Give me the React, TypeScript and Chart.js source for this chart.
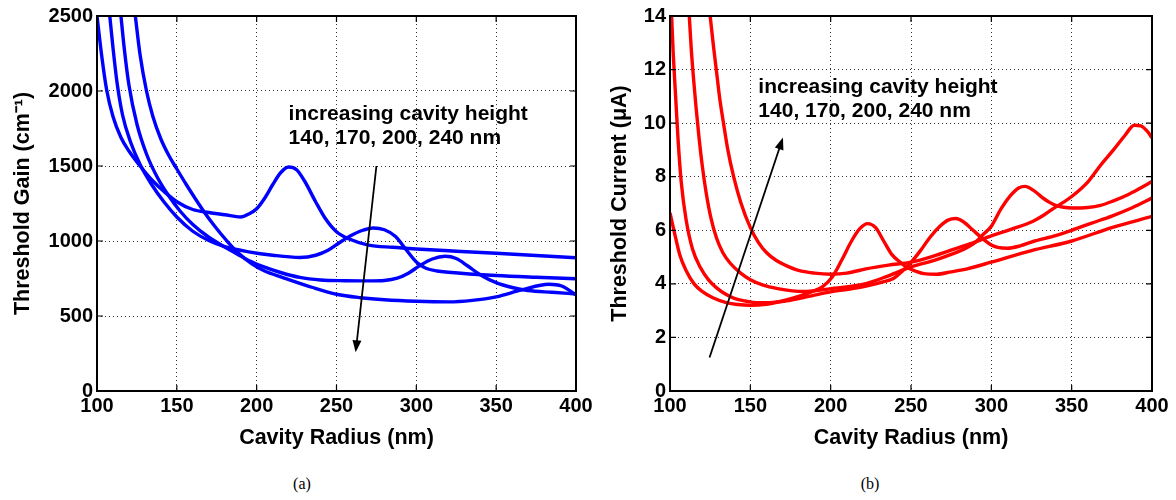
import React, { useEffect, useRef } from 'react';
import { Chart, registerables } from 'chart.js';

Chart.register(...registerables);

// ---------- axes ----------
const radiusTicks = [100, 150, 200, 250, 300, 350, 400];
const gainTicks = [0, 500, 1000, 1500, 2000, 2500];
const currentTicks = [0, 2, 4, 6, 8, 10, 12, 14];
const heightLabels = ['140 nm', '170 nm', '200 nm', '240 nm'];

// ---------- (a) threshold gain (cm^-1) ----------
const gain140R = [100, 103, 106, 110, 115, 120, 127, 135, 142, 150, 160, 170, 180, 190, 195, 200, 205, 210, 215, 220, 225, 230, 237, 243, 250, 258, 270, 285, 300, 325, 350, 375, 400];
const gain140V = [2500, 2230, 2010, 1830, 1690, 1600, 1500, 1400, 1330, 1262, 1210, 1190, 1175, 1160, 1180, 1215, 1285, 1375, 1455, 1493, 1475, 1400, 1260, 1150, 1062, 1013, 973, 958, 947, 932, 918, 903, 888];

const gain170R = [108, 110, 112.5, 116, 121, 127, 134, 142, 150, 160, 170, 180, 195, 210, 227, 237, 245, 252, 258, 266, 273, 280, 287, 293, 300, 306, 313, 320, 350, 375, 400];
const gain170V = [2500, 2290, 2060, 1840, 1660, 1510, 1380, 1260, 1160, 1065, 1003, 962, 928, 905, 890, 905, 940, 990, 1030, 1070, 1087, 1075, 1030, 950, 860, 818, 800, 792, 770, 758, 748];

const gain200R = [115, 117, 120, 125, 131, 138, 145, 152, 160, 170, 180, 188, 195, 205, 215, 227, 240, 255, 270, 280, 288, 295, 302, 310, 318, 325, 332, 340, 350, 360, 370, 385, 400];
const gain200V = [2500, 2290, 2040, 1780, 1580, 1420, 1300, 1200, 1110, 1025, 960, 912, 870, 826, 790, 757, 740, 735, 734, 737, 752, 785, 835, 880, 898, 883, 835, 775, 722, 690, 670, 658, 647];

const gain240R = [124, 127, 131, 135, 140, 145, 150, 156, 162, 168, 174, 181, 188, 197, 205, 216, 235, 250, 265, 280, 300, 320, 335, 350, 366, 383, 391, 400];
const gain240V = [2500, 2240, 2000, 1830, 1680, 1570, 1480, 1375, 1275, 1180, 1095, 1005, 925, 848, 800, 758, 690, 645, 622, 608, 598, 594, 604, 628, 674, 712, 700, 642];

// ---------- (b) threshold current (uA) ----------
const cur140R = [100, 103, 106, 110, 115, 120, 127, 135, 142, 150, 160, 170, 180, 188, 195, 201, 207, 213, 218, 223, 228, 233, 238, 243, 248, 253, 258, 266, 275, 285, 300, 325, 350, 375, 400];
const cur140V = [6.65, 5.85, 5.1, 4.5, 4.0, 3.72, 3.47, 3.3, 3.23, 3.2, 3.24, 3.36, 3.53, 3.7, 3.9, 4.26, 4.9, 5.6, 6.05, 6.25, 6.1, 5.6, 5.1, 4.82, 4.6, 4.47, 4.38, 4.36, 4.45, 4.56, 4.81, 5.24, 5.6, 6.1, 6.52];

const cur170R = [101, 102, 103.5, 105, 107, 110, 114, 119, 124, 129, 135, 140, 147, 154, 162, 171, 180, 190, 200, 211, 222, 231, 239, 245, 250, 256, 262, 268, 273, 278, 283, 289, 295, 300, 304, 310, 318, 327, 340, 350, 362, 375, 388, 400];
const cur170V = [14, 12.6, 11, 9.4, 7.8, 6.4, 5.3, 4.6, 4.15, 3.85, 3.6, 3.46, 3.36, 3.3, 3.3, 3.35, 3.45, 3.58, 3.7, 3.8, 3.92, 4.05, 4.2, 4.5, 4.8, 5.25, 5.75, 6.15, 6.38, 6.44, 6.3, 5.98, 5.67, 5.45, 5.36, 5.33, 5.42, 5.6, 5.8, 6.0, 6.26, 6.53, 6.85, 7.2];

const cur200R = [112, 113.2, 114.6, 116.2, 118, 120, 122.5, 125.5, 129, 133, 137.5, 144, 150, 158, 167, 176, 185, 200, 222, 236, 250, 264, 275, 285, 290, 295, 300, 306, 312, 317, 321, 326, 331, 336, 340, 345, 350, 360, 368, 376, 385, 392, 400];
const cur200V = [14, 12.8, 11.7, 10.6, 9.5, 8.45, 7.4, 6.45, 5.7, 5.15, 4.77, 4.4, 4.15, 3.95, 3.82, 3.74, 3.72, 3.82, 4.01, 4.3, 4.63, 4.87, 5.1, 5.36, 5.55, 5.85, 6.15, 6.8, 7.3, 7.58, 7.64, 7.5, 7.26, 7.05, 6.93, 6.86, 6.83, 6.85, 6.93, 7.1, 7.33, 7.55, 7.82];

const cur240R = [125, 127, 129, 131, 133.3, 136, 139.6, 144, 150, 155, 160, 166, 172, 180, 190, 200, 210, 222, 236, 250, 262, 274, 287, 300, 313, 326, 333, 339, 345, 350, 360, 368, 376, 383, 389, 393, 397, 400];
const cur240V = [14, 12.9, 11.9, 10.9, 10, 9, 8, 7.05, 6.1, 5.55, 5.17, 4.88, 4.69, 4.5, 4.4, 4.36, 4.4, 4.56, 4.7, 4.81, 5.0, 5.24, 5.5, 5.79, 6.05, 6.34, 6.58, 6.83, 7.05, 7.26, 7.8, 8.43, 9.0, 9.53, 9.92, 9.9, 9.7, 9.45];

// ---------- annotations ----------
const noteLines = ['increasing cavity height', '140, 170, 200, 240 nm'];
const gainNoteX = 220;
const gainNoteY = [1842, 1683];
const gainArrow = [275, 1500, 262, 258]; // from (x,y) to (x,y)
const currentNoteX = 155;
const currentNoteY = [11.36, 10.43];
const currentArrow = [124.6, 1.25, 170.3, 9.46];

const FONT = "'Liberation Sans', Arial, Helvetica, sans-serif";

function pts(xs: number[], ys: number[]) {
  return xs.map((x, i) => ({ x, y: ys[i] }));
}

const framePlugin = {
  id: 'matlabFrame',
  afterDatasetsDraw(chart: any, _args: any, opts: any) {
    const { ctx, chartArea, scales } = chart;
    const { left, top, right, bottom } = chartArea;
    const xs = scales.x;
    const ys = scales.y;
    ctx.save();
    ctx.strokeStyle = '#000';
    ctx.lineWidth = 1.2;
    ctx.beginPath();
    for (const v of opts.xTicks) {
      const p = xs.getPixelForValue(v);
      ctx.moveTo(p, bottom);
      ctx.lineTo(p, bottom - 6);
      ctx.moveTo(p, top);
      ctx.lineTo(p, top + 6);
    }
    for (const v of opts.yTicks) {
      const p = ys.getPixelForValue(v);
      ctx.moveTo(left, p);
      ctx.lineTo(left + 6, p);
      ctx.moveTo(right, p);
      ctx.lineTo(right - 6, p);
    }
    ctx.stroke();
    ctx.lineWidth = 2;
    ctx.strokeRect(left, top, right - left, bottom - top);

    // note text
    ctx.fillStyle = '#000';
    ctx.font = `bold 21px ${FONT}`;
    ctx.textAlign = 'left';
    ctx.textBaseline = 'middle';
    opts.lines.forEach((t: string, i: number) => {
      ctx.fillText(t, xs.getPixelForValue(opts.noteX), ys.getPixelForValue(opts.noteY[i]));
    });
    // arrow
    const [ax, ay, bx, by] = opts.arrow;
    const x1 = xs.getPixelForValue(ax), y1 = ys.getPixelForValue(ay);
    const x2 = xs.getPixelForValue(bx), y2 = ys.getPixelForValue(by);
    const ang = Math.atan2(y2 - y1, x2 - x1);
    const hl = 12, hw = 4.5;
    ctx.lineWidth = 1.8;
    ctx.beginPath();
    ctx.moveTo(x1, y1);
    ctx.lineTo(x2 - Math.cos(ang) * hl * 0.8, y2 - Math.sin(ang) * hl * 0.8);
    ctx.stroke();
    ctx.beginPath();
    ctx.moveTo(x2, y2);
    ctx.lineTo(x2 - Math.cos(ang) * hl - Math.sin(ang) * hw, y2 - Math.sin(ang) * hl + Math.cos(ang) * hw);
    ctx.lineTo(x2 - Math.cos(ang) * hl + Math.sin(ang) * hw, y2 - Math.sin(ang) * hl - Math.cos(ang) * hw);
    ctx.closePath();
    ctx.fill();
    ctx.restore();
  },
};

function buildChart(
  canvas: HTMLCanvasElement,
  series: { x: number; y: number }[][],
  color: string,
  yMax: number,
  yStep: number,
  yTitle: string,
  yAxisWidth: number,
  yTitlePad: number,
  frameOpts: any
) {
  const tickFont = { family: FONT, size: 20, weight: 'bold' as const };
  const titleFont = { family: FONT, size: 21.5, weight: 'bold' as const };
  return new Chart(canvas, {
    type: 'line',
    data: {
      datasets: series.map((d, i) => ({
        label: heightLabels[i],
        data: d,
        borderColor: color,
        backgroundColor: color,
        borderWidth: 3.4,
        pointRadius: 0,
        fill: false,
        cubicInterpolationMode: 'monotone' as const,
      })),
    },
    options: {
      responsive: false,
      animation: false,
      events: [],
      layout: { padding: { left: 0, top: 14, right: 24, bottom: 0 } },
      plugins: {
        legend: { display: false },
        tooltip: { enabled: false },
        matlabFrame: frameOpts,
      } as any,
      scales: {
        x: {
          type: 'linear',
          min: 100,
          max: 400,
          ticks: { stepSize: 50, font: tickFont, color: '#000', padding: 3, maxRotation: 0, callback: (v: any) => String(v) },
          grid: { color: 'rgba(0,0,0,0.8)', lineWidth: 1, drawTicks: false },
          border: { display: false, dash: [1, 3] },
          title: { display: true, text: 'Cavity Radius (nm)', font: titleFont, color: '#000', padding: { top: 0, bottom: 9 } },
          afterFit: (s: any) => {
            s.height = 69;
          },
        },
        y: {
          type: 'linear',
          min: 0,
          max: yMax,
          ticks: { stepSize: yStep, font: tickFont, color: '#000', padding: 4, callback: (v: any) => String(v) },
          grid: { color: 'rgba(0,0,0,0.8)', lineWidth: 1, drawTicks: false },
          border: { display: false, dash: [1, 3] },
          title: { display: true, text: yTitle, font: titleFont, color: '#000', padding: { top: yTitlePad, bottom: 0 } },
          afterFit: (s: any) => {
            s.width = yAxisWidth;
          },
        },
      },
    },
    plugins: [framePlugin],
  });
}

export default function App() {
  const leftRef = useRef<HTMLCanvasElement>(null);
  const rightRef = useRef<HTMLCanvasElement>(null);

  useEffect(() => {
    document.body.style.margin = '0';
    const a = buildChart(
      leftRef.current!,
      [pts(gain140R, gain140V), pts(gain170R, gain170V), pts(gain200R, gain200V), pts(gain240R, gain240V)],
      '#0000ff',
      2500,
      500,
      'Threshold Gain (cm\u207B\u00B9)',
      97,
      10,
      { xTicks: radiusTicks, yTicks: gainTicks, lines: noteLines, noteX: gainNoteX, noteY: gainNoteY, arrow: gainArrow }
    );
    const b = buildChart(
      rightRef.current!,
      [pts(cur140R, cur140V), pts(cur170R, cur170V), pts(cur200R, cur200V), pts(cur240R, cur240V)],
      '#ff0000',
      14,
      2,
      'Threshold Current (\u03BCA)',
      80,
      17,
      { xTicks: radiusTicks, yTicks: currentTicks, lines: noteLines, noteX: currentNoteX, noteY: currentNoteY, arrow: currentArrow }
    );
    return () => {
      a.destroy();
      b.destroy();
    };
  }, []);

  const capStyle: React.CSSProperties = {
    position: 'absolute',
    top: 474,
    width: 60,
    textAlign: 'center',
    fontFamily: "'Liberation Serif', 'Times New Roman', serif",
    fontSize: 16,
    lineHeight: '20px',
    color: '#000',
  };

  return (
    <div style={{ position: 'relative', width: 1176, height: 500, background: '#fff', overflow: 'hidden' }}>
      <canvas ref={leftRef} width={600} height={460} style={{ position: 'absolute', left: 0, top: 0 }} />
      <canvas ref={rightRef} width={586} height={460} style={{ position: 'absolute', left: 590, top: 0 }} />
      <div style={{ ...capStyle, left: 272 }}>(a)</div>
      <div style={{ ...capStyle, left: 840 }}>(b)</div>
    </div>
  );
}
